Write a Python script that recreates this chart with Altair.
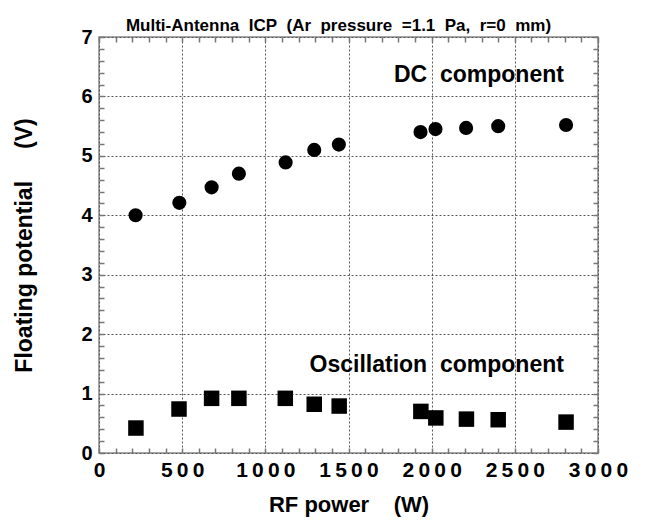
import altair as alt
import pandas as pd

power_dc = [220, 483, 677, 841, 1122, 1294, 1442, 1933, 2023, 2207, 2400, 2808]
dc_values = [4.00, 4.21, 4.47, 4.70, 4.89, 5.10, 5.19, 5.40, 5.45, 5.47, 5.50, 5.52]
power_osc = [222, 481, 677, 841, 1120, 1294, 1444, 1935, 2025, 2209, 2400, 2808]
osc_values = [0.42, 0.74, 0.92, 0.92, 0.92, 0.82, 0.79, 0.70, 0.59, 0.57, 0.56, 0.52]

x_major = [0, 500, 1000, 1500, 2000, 2500, 3000]
x_minor = [i * 100 for i in range(31)]
y_major = [0, 1, 2, 3, 4, 5, 6, 7]
y_minor = [round(i * 0.2, 1) for i in range(36)]

df = pd.DataFrame({
    "power": power_dc + power_osc,
    "value": dc_values + osc_values,
    "component": ["DC"] * len(power_dc) + ["Osc"] * len(power_osc),
})

FONT = "Liberation Sans"
NB = "\u00a0"
xs = alt.Scale(domain=[0, 3000], nice=False, zero=False)
ys = alt.Scale(domain=[0, 7], nice=False, zero=False)
TICK = "#777777"

base = alt.Chart(df)

grid = base.mark_point(opacity=0).encode(
    x=alt.X("power:Q", scale=xs, axis=alt.Axis(
        orient="bottom", values=x_major, grid=True, gridDash=[2, 2],
        gridColor="#555555", gridWidth=1, ticks=False, labels=False,
        domain=False, title=None)),
    y=alt.Y("value:Q", scale=ys, axis=alt.Axis(
        orient="left", values=y_major, grid=True, gridDash=[2, 2],
        gridColor="#555555", gridWidth=1, ticks=False, labels=False,
        domain=False, title=None)),
)

points = base.mark_point(filled=True, opacity=1, color="black").encode(
    x=alt.X("power:Q", scale=xs, axis=alt.Axis(
        orient="bottom", values=x_minor, offset=-5, tickSize=5,
        tickColor=TICK, tickWidth=1.5, domain=False, grid=False,
        labelExpr="datum.value % 500 == 0 ? join(split(format(datum.value, 'd'), ''), '\u2009') : ''",
        labelPadding=6, labelFont=FONT, labelFontSize=21, labelFontWeight="bold",
        labelColor="black", labelOverlap=False, labelFlush=False,
        title="RF power" + NB * 4 + "(W)", titleFont=FONT, titleFontSize=22,
        titleFontWeight="bold", titleColor="black", titlePadding=14)),
    y=alt.Y("value:Q", scale=ys, axis=alt.Axis(
        orient="left", values=y_minor, offset=-5, tickSize=5,
        tickColor=TICK, tickWidth=1.5, domain=False, grid=False,
        labelExpr="abs(datum.value - round(datum.value)) < 0.001 ? format(datum.value, 'd') : ''",
        labelPadding=7, labelFont=FONT, labelFontSize=20, labelFontWeight="bold",
        labelColor="black", labelOverlap=False, labelFlush=False,
        title="Floating potential" + NB * 5 + "(V)", titleFont=FONT, titleFontSize=23,
        titleFontWeight="bold", titleColor="black", titlePadding=44)),
    shape=alt.Shape("component:N", scale=alt.Scale(domain=["DC", "Osc"], range=["circle", "square"]), legend=None),
    size=alt.Size("component:N", scale=alt.Scale(domain=["DC", "Osc"], range=[200, 240]), legend=None),
)

ticks2 = base.mark_point(opacity=0).encode(
    x=alt.X("power:Q", scale=xs, axis=alt.Axis(
        orient="top", values=x_minor, offset=-5, tickSize=5,
        tickColor=TICK, tickWidth=1.5, domain=False, grid=False,
        labels=False, title=None)),
    y=alt.Y("value:Q", scale=ys, axis=alt.Axis(
        orient="right", values=y_minor, offset=-5, tickSize=5,
        tickColor=TICK, tickWidth=1.5, domain=False, grid=False,
        labels=False, title=None)),
)

label_dc = alt.Chart(pd.DataFrame({"t": ["DC" + NB * 2 + "component"]})).mark_text(
    align="right", baseline="alphabetic", font=FONT, fontSize=23, fontWeight="bold", color="black"
).encode(
    x=alt.XDatum(2795, type="quantitative", scale=xs, axis=None),
    y=alt.YDatum(6.25, type="quantitative", scale=ys, axis=None),
    text="t:N",
)
label_osc = alt.Chart(pd.DataFrame({"t": ["Oscillation" + NB * 2 + "component"]})).mark_text(
    align="right", baseline="alphabetic", font=FONT, fontSize=23, fontWeight="bold", color="black"
).encode(
    x=alt.XDatum(2795, type="quantitative", scale=xs, axis=None),
    y=alt.YDatum(1.36, type="quantitative", scale=ys, axis=None),
    text="t:N",
)

title_text = NB.join(["Multi-Antenna", "", "ICP", "", "(Ar", "", "pressure", "", "=1.1", "", "Pa,", "", "r=0", "", "mm)"])

chart = alt.layer(grid, points, ticks2, label_dc, label_osc).resolve_axis(
    x="independent", y="independent"
).properties(
    width=499, height=416,
    title=alt.TitleParams(
        text=title_text,
        font=FONT, fontSize=17, fontWeight="bold", color="black",
        anchor="middle", dx=-10, dy=13, offset=5),
    autosize=alt.AutoSizeParams(type="none"),
    padding={"left": 91, "top": 29, "right": 39, "bottom": 66},
).configure_view(stroke="#888888", strokeWidth=1.5)

chart.save("out.html", embed_options={"renderer": "svg", "actions": False})
